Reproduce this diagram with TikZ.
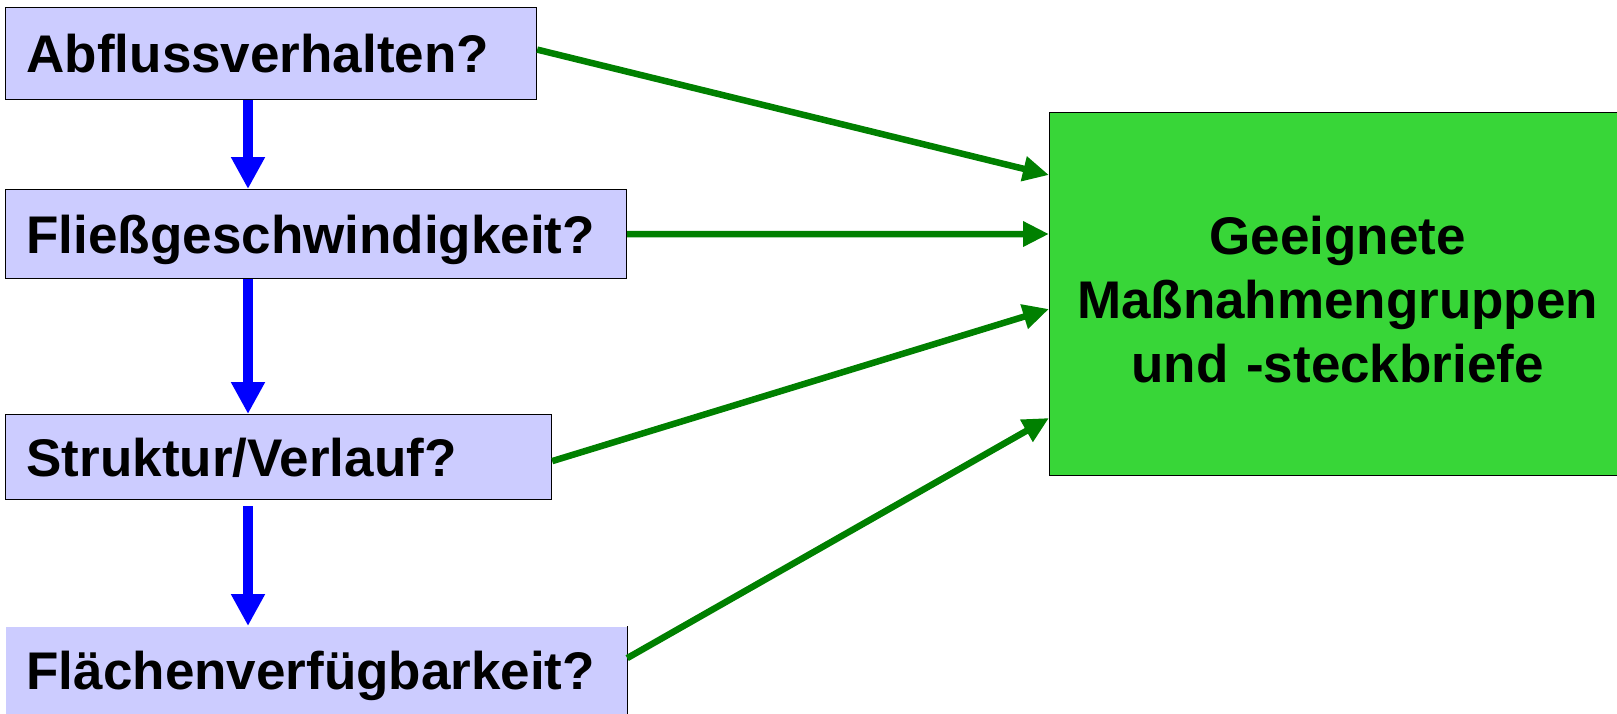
\documentclass[tikz,border=0pt]{standalone}
\usepackage{fontspec}
\setmainfont{Liberation Sans}
\usetikzlibrary{arrows.meta, positioning, calc}
\definecolor{flieder}{RGB}{204,204,255}
\definecolor{hellgruen}{RGB}{56,214,56}
\definecolor{dunkelgruen}{RGB}{0,128,0}
\tikzset{
x=1pt, y=-1pt, % one unit is one pixel of the slide, y runs downwards
frage/.style={draw=black, line width=1.2pt, fill=flieder, anchor=north west, inner xsep=21pt, inner ysep=0pt, align=left, text height=38pt, text depth=0pt, font=\fontsize{53}{64}\selectfont\bfseries}, % the question boxes on the left
ziel/.style={draw=black, line width=1.2pt, fill=hellgruen, anchor=north west, inner sep=0pt, align=center, text width=540pt, text height=49pt, text depth=128pt, font=\fontsize{53}{64}\selectfont\bfseries}, % the green result box
blaupfeil/.style={draw=blue, line width=10pt, -{Triangle[length=32pt, width=32pt]}}, % arrows between the questions
gruenpfeil/.style={draw=dunkelgruen, line width=6.5pt, -{Triangle[length=26pt, width=24pt]}}, % arrows into the result box
}
\begin{document}
\begin{tikzpicture}
    \useasboundingbox (0,0) rectangle (1617,713);
    \node[frage, text width=489pt, minimum width=531pt, minimum height=92pt] (abfluss) at (5,7) {Abflussverhalten?};
    \node[frage, text width=579pt, minimum width=621pt, minimum height=89pt] (fliess) at (5,189) {Fließgeschwindigkeit?};
    \node[frage, text width=504pt, minimum width=546pt, minimum height=85pt] (struktur) at (5,414) {Struktur/Verlauf?};
    \node[frage, draw=none, text width=579pt, minimum width=621pt, minimum height=87pt] (flaeche) at (5,626) {Flächenverfügbarkeit?};
    \draw[line width=1.2pt] (flaeche.north east) -- (flaeche.south east);
    \node[ziel, minimum width=576pt, minimum height=363pt] (massnahmen) at (1049,112) {Geeignete\\Maßnahmengruppen\\und -steckbriefe};
    \draw[blaupfeil] ($(abfluss.south west)+(243,0)$) -- ($(fliess.north west)+(243,0)$);
    \draw[blaupfeil] ($(fliess.south west)+(243,0)$) -- ($(struktur.north west)+(243,0)$);
    \draw[blaupfeil] ($(struktur.south west)+(243,6)$) -- ($(flaeche.north west)+(243,0)$);
    \draw[gruenpfeil] ($(abfluss.east)+(0,-4)$) -- ($(massnahmen.north west)+(0,63)$);
    \draw[gruenpfeil] (fliess.east) -- ($(massnahmen.north west)+(0,122)$);
    \draw[gruenpfeil] ($(struktur.east)+(0,4)$) -- ($(massnahmen.north west)+(0,197)$);
    \draw[gruenpfeil] ($(flaeche.east)+(0,-12)$) -- ($(massnahmen.north west)+(0,306)$);
  \end{tikzpicture}
\end{document}
